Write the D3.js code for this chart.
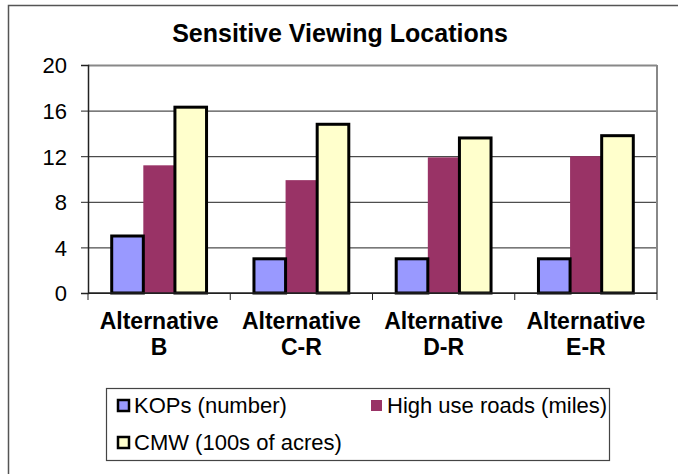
<!DOCTYPE html>
<html>
<head>
<meta charset="utf-8">
<script src="https://cdn.jsdelivr.net/npm/d3@7"></script>
<style>
  body { margin: 0; background: #fff; }
  text { font-family: "Liberation Sans", Arial, sans-serif; fill: #000; }
</style>
</head>
<body>
<div id="chart"></div>
<script>
////// DATA
var categories = ["Alternative B", "Alternative C-R", "Alternative D-R", "Alternative E-R"];
var seriesNames = ["KOPs (number)", "High use roads (miles)", "CMW (100s of acres)"];
var kops = [5, 3, 3, 3];
var roads = [11.2, 9.9, 11.9, 12.0];
var cmw = [16.3, 14.8, 13.6, 13.8];
var yTicks = [0, 4, 8, 12, 16, 20];
var seriesColors = ["#9999ff", "#993366", "#ffffcc"];
var seriesStroke = ["#000", "none", "#000"];

////// SETUP SVG
var W = 678, H = 474;
var plot = { left: 88, right: 657, top: 65, bottom: 293 };

var svg = d3.select("#chart")
    .append("svg")
    .attr("width", W)
    .attr("height", H);

// outer chart frame (bottom/right fall outside the picture)
svg.append("rect")
    .attr("x", 8.5).attr("y", 5.5)
    .attr("width", W).attr("height", H)
    .attr("fill", "none")
    .attr("stroke", "#555")
    .attr("stroke-width", 1.5);

// title
svg.append("text")
    .attr("x", 340).attr("y", 42)
    .attr("text-anchor", "middle")
    .attr("font-size", "25px")
    .attr("font-weight", "bold")
    .text("Sensitive Viewing Locations");

////// SCALES
var y = d3.scaleLinear().domain([0, 20]).range([plot.bottom, plot.top]);
var x0 = d3.scaleBand().domain(categories).range([plot.left, plot.right]).padding(0);
var x1 = d3.scaleBand().domain(seriesNames).range([0, x0.bandwidth()])
    .paddingInner(0).paddingOuter(0.75);

// table built from the arrays
var rows = categories.map(function(c, i) {
    return { cat: c, values: [kops[i], roads[i], cmw[i]] };
});

////// GRID + PLOT FRAME
svg.append("g")
    .attr("transform", "translate(" + plot.left + ",0)")
    .call(d3.axisLeft(y).tickValues(yTicks).tickSize(-(plot.right - plot.left)).tickFormat(""))
    .call(function(g) {
        g.select(".domain").remove();
        g.selectAll("line").attr("stroke", "#222").attr("stroke-width", 1);
        g.selectAll(".tick").filter(function(d) { return d === 20; })
            .select("line").attr("stroke", "#888").attr("stroke-width", 2);
    });

// right frame edge
svg.append("line")
    .attr("x1", plot.right).attr("x2", plot.right)
    .attr("y1", y(20)).attr("y2", y(0))
    .attr("stroke", "#888").attr("stroke-width", 2);

////// BARS
var groups = svg.selectAll(".grp")
    .data(rows)
    .enter().append("g")
    .attr("class", "grp")
    .attr("transform", function(d) { return "translate(" + x0(d.cat) + ",0)"; });

// unbordered bars first so the black outlines stay on top
groups.selectAll("rect")
    .data(function(d) {
        return d.values.map(function(v, j) { return { s: seriesNames[j], v: v, j: j }; })
            .sort(function(a, b) { return (a.j === 1 ? 0 : 1) - (b.j === 1 ? 0 : 1); });
    })
    .enter().append("rect")
    .attr("x", function(d) { return x1(d.s); })
    .attr("y", function(d) { return y(d.v); })
    .attr("width", x1.bandwidth())
    .attr("height", function(d) { return y(0) - y(d.v); })
    .attr("fill", function(d) { return seriesColors[d.j]; })
    .attr("stroke", function(d) { return seriesStroke[d.j]; })
    .attr("stroke-width", 3);

////// Y AXIS
svg.append("g")
    .attr("transform", "translate(" + plot.left + ",0)")
    .call(d3.axisLeft(y).tickValues(yTicks).tickSize(7).tickPadding(14))
    .call(function(g) {
        g.select(".domain").attr("stroke", "#222").attr("stroke-width", 1.5);
        g.selectAll("line").attr("stroke", "#222");
        g.selectAll("text")
            .attr("font-size", "22px")
            .attr("font-family", "'Liberation Sans', Arial, sans-serif")
            .attr("dy", "0.36em");
    });

////// X AXIS
var xTickVals = [plot.left].concat(categories.map(function(c) { return x0(c) + x0.bandwidth(); }));
svg.append("g")
    .selectAll("line")
    .data(xTickVals)
    .enter().append("line")
    .attr("x1", function(d) { return d; }).attr("x2", function(d) { return d; })
    .attr("y1", plot.bottom).attr("y2", plot.bottom + 7)
    .attr("stroke", "#222");

svg.append("line")
    .attr("x1", plot.left).attr("x2", plot.right)
    .attr("y1", plot.bottom).attr("y2", plot.bottom)
    .attr("stroke", "#222").attr("stroke-width", 1.5);

var xl = svg.selectAll(".xlab")
    .data(categories)
    .enter().append("text")
    .attr("class", "xlab")
    .attr("text-anchor", "middle")
    .attr("font-size", "23px")
    .attr("font-weight", "bold")
    .attr("transform", function(d) { return "translate(" + (x0(d) + x0.bandwidth() / 2) + ",0)"; });
xl.append("tspan").attr("x", 0).attr("y", 329)
    .text(function(d) { return d.split(" ")[0]; });
xl.append("tspan").attr("x", 0).attr("y", 355)
    .text(function(d) { return d.split(" ")[1]; });

////// LEGEND
var legend = svg.append("g");
legend.append("rect")
    .attr("x", 106.5).attr("y", 388.5)
    .attr("width", 503).attr("height", 72)
    .attr("fill", "#fff")
    .attr("stroke", "#444").attr("stroke-width", 1.2);

var legPos = [[118, 413], [371, 413], [118, 450]];
var items = legend.selectAll(".li")
    .data(seriesNames)
    .enter().append("g")
    .attr("class", "li")
    .attr("transform", function(d, i) { return "translate(" + legPos[i][0] + "," + legPos[i][1] + ")"; });

items.append("rect")
    .attr("x", 0).attr("y", -13)
    .attr("width", 11).attr("height", 11)
    .attr("fill", function(d, i) { return seriesColors[i]; })
    .attr("stroke", function(d, i) { return seriesStroke[i]; })
    .attr("stroke-width", 2.5);

items.append("text")
    .attr("x", 16).attr("y", 0)
    .attr("font-size", "22px")
    .text(function(d) { return d; });
</script>
</body>
</html>
